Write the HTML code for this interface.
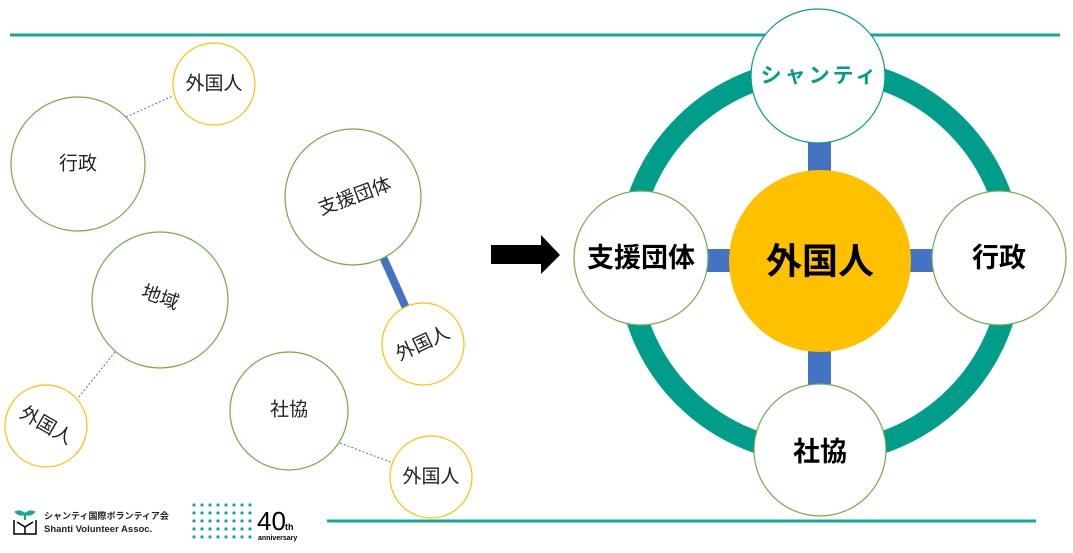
<!DOCTYPE html>
<html><head><meta charset="utf-8"><style>
html,body{margin:0;padding:0;background:#fff;width:1073px;height:553px;overflow:hidden}
svg text{font-family:"Liberation Sans","Noto Sans CJK JP",sans-serif}
</style></head><body>
<svg width="1073" height="553" viewBox="0 0 1073 553" xmlns="http://www.w3.org/2000/svg">
<line x1="10" y1="35" x2="1060" y2="35" stroke="#13a898" stroke-width="3"/>
<line x1="327" y1="521" x2="1036" y2="521" stroke="#13a898" stroke-width="3"/>
<!-- left side -->
<line x1="126" y1="117" x2="173" y2="96" stroke="#4472c4" stroke-width="1" stroke-dasharray="2,2"/>
<line x1="115" y1="352" x2="78" y2="398" stroke="#4472c4" stroke-width="1" stroke-dasharray="2,2"/>
<line x1="340" y1="443" x2="393" y2="463" stroke="#4472c4" stroke-width="1" stroke-dasharray="2,2"/>
<line x1="383" y1="257" x2="406" y2="308" stroke="#4472c4" stroke-width="8"/>
<g fill="#fff" stroke-width="1.2">
<circle cx="214" cy="84" r="41" stroke="#ffc000"/>
<circle cx="78" cy="164" r="67" stroke="#70ad47"/>
<circle cx="353" cy="197" r="68" stroke="#70ad47"/>
<circle cx="423" cy="344" r="41" stroke="#ffc000"/>
<circle cx="160" cy="300" r="68" stroke="#70ad47"/>
<circle cx="46" cy="426" r="41" stroke="#ffc000"/>
<circle cx="289" cy="411" r="59" stroke="#70ad47"/>
<circle cx="431" cy="477" r="41" stroke="#ffc000"/>
</g>
<g font-size="19" fill="#222" text-anchor="middle" dominant-baseline="central">
<text x="214" y="84">外国人</text>
<text x="78" y="164">行政</text>
<text x="355" y="197" transform="rotate(-20 355 197)">支援団体</text>
<text x="423" y="344" transform="rotate(-25 423 344)">外国人</text>
<text x="160" y="298" transform="rotate(20 160 298)">地域</text>
<text x="46" y="426" transform="rotate(30 46 426)">外国人</text>
<text x="289" y="410">社協</text>
<text x="431" y="477">外国人</text>
</g>
<!-- arrow -->
<polygon points="491,245 541,245 541,235 560,255 541,274 541,264 491,264" fill="#000"/>
<!-- right side -->
<circle cx="820" cy="261" r="192" fill="none" stroke="#009e8a" stroke-width="22"/>
<rect x="808" y="140" width="23" height="245" fill="#4472c4"/>
<rect x="700" y="249" width="240" height="23" fill="#4472c4"/>
<circle cx="820" cy="261" r="91" fill="#ffc000"/>
<g fill="#fff" stroke-width="1.2">
<circle cx="818" cy="76" r="67" stroke="#009e8a"/>
<circle cx="641" cy="258" r="67" stroke="#70ad47"/>
<circle cx="999" cy="258" r="67" stroke="#70ad47"/>
<circle cx="820" cy="450" r="66" stroke="#70ad47"/>
</g>
<g font-weight="bold" text-anchor="middle" dominant-baseline="central">
<text x="820" y="76" font-size="21" fill="#009e8a" letter-spacing="3">シャンティ</text>
<text x="641" y="258" font-size="27" fill="#000">支援団体</text>
<text x="999" y="258" font-size="27" fill="#000">行政</text>
<text x="820" y="452" font-size="27" fill="#000">社協</text>
<text x="820" y="261" font-size="36" fill="#000">外国人</text>
</g>
<!-- logos -->
<g stroke="#000" stroke-width="1.5" fill="none">
<path d="M14 520 v14 h22 v-14 M17 522 l8 5 l8 -5 M25 527 v7"/>
</g>
<path d="M25 520 v-6 M25 514 q-5 -4 -9 -2 q4 4 9 2 M25 514 q5 -4 9 -2 q-4 4 -9 2" stroke="#13a898" stroke-width="2" fill="#13a898"/>
<text x="44" y="519" font-size="9" font-weight="bold" fill="#222">シャンティ国際ボランティア会</text>
<text x="44" y="532" font-size="9.5" font-weight="bold" fill="#222">Shanti Volunteer Assoc.</text>
<g fill="#13a898">
<circle cx="194" cy="505" r="1.6"/><circle cx="202" cy="505" r="1.6"/><circle cx="210" cy="505" r="1.6"/><circle cx="218" cy="505" r="1.6"/><circle cx="226" cy="505" r="1.6"/><circle cx="234" cy="505" r="1.6"/><circle cx="242" cy="505" r="1.6"/><circle cx="250" cy="505" r="1.6"/>
<circle cx="194" cy="513" r="1.6"/><circle cx="202" cy="513" r="1.6"/><circle cx="210" cy="513" r="1.6"/><circle cx="218" cy="513" r="1.6"/><circle cx="226" cy="513" r="1.6"/><circle cx="234" cy="513" r="1.6"/><circle cx="242" cy="513" r="1.6"/><circle cx="250" cy="513" r="1.6"/>
<circle cx="194" cy="521" r="1.6"/><circle cx="202" cy="521" r="1.6"/><circle cx="210" cy="521" r="1.6"/><circle cx="218" cy="521" r="1.6"/><circle cx="226" cy="521" r="1.6"/><circle cx="234" cy="521" r="1.6"/><circle cx="242" cy="521" r="1.6"/><circle cx="250" cy="521" r="1.6"/>
<circle cx="194" cy="529" r="1.6"/><circle cx="202" cy="529" r="1.6"/><circle cx="210" cy="529" r="1.6"/><circle cx="218" cy="529" r="1.6"/><circle cx="226" cy="529" r="1.6"/><circle cx="234" cy="529" r="1.6"/><circle cx="242" cy="529" r="1.6"/><circle cx="250" cy="529" r="1.6"/>
<circle cx="194" cy="537" r="1.6"/><circle cx="202" cy="537" r="1.6"/><circle cx="210" cy="537" r="1.6"/><circle cx="218" cy="537" r="1.6"/><circle cx="226" cy="537" r="1.6"/><circle cx="234" cy="537" r="1.6"/><circle cx="242" cy="537" r="1.6"/><circle cx="250" cy="537" r="1.6"/>
</g>
<text x="257" y="530" font-size="26" fill="#000">40</text>
<text x="285" y="530" font-size="9" font-weight="bold" fill="#000">th</text>
<text x="258" y="540" font-size="7" font-weight="bold" fill="#000">anniversary</text>
</svg>
</body></html>
